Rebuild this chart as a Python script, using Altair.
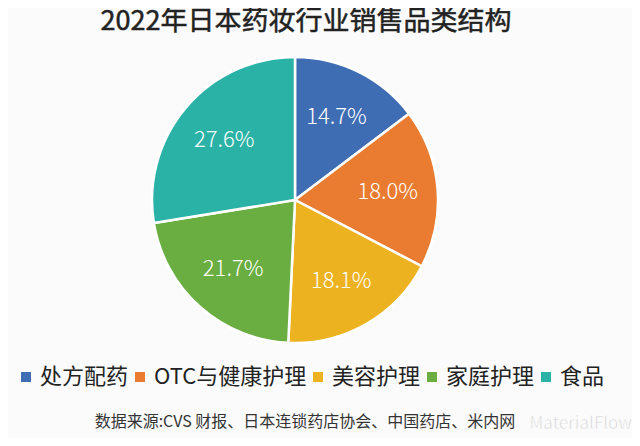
import altair as alt
import pandas as pd

categories = ["处方配药", "OTC与健康护理", "美容护理", "家庭护理", "食品"]
shares = [14.7, 18.0, 18.1, 21.7, 27.6]
labels = ["14.7%", "18.0%", "18.1%", "21.7%", "27.6%"]
colors = ["#3f6db4", "#e97c30", "#edb21f", "#6aae42", "#2bb2a6"]

title_text = "2022年日本药妆行业销售品类结构"
source_text = "数据来源:CVS 财报、日本连锁药店协会、中国药店、米内网"
watermark_text = "MaterialFlow"

FONT = "Noto Sans CJK SC"

df = pd.DataFrame({"cat": categories, "share": shares, "label": labels,
                   "order": list(range(len(categories)))})

CX, CY, R = 287, 192, 143

color_scale = alt.Scale(domain=categories, range=colors)

base = alt.Chart(df).encode(
    theta=alt.Theta("share:Q", stack=True),
    order=alt.Order("order:Q"),
)

pie = base.mark_arc(outerRadius=R, stroke="#ffffff", strokeWidth=2.5).encode(
    color=alt.Color(
        "cat:N",
        scale=color_scale,
        sort=categories,
        legend=alt.Legend(
            title=None,
            orient="none",
            legendX=7,
            legendY=358,
            direction="horizontal",
            symbolType="square",
            symbolSize=100,
            symbolStrokeWidth=0,
            labelFont=FONT,
            labelFontSize=22,
            labelColor="#222222",
            labelOffset=3,
            columnPadding=0,
            labelLimit=300,
        ),
    ),
    x=alt.value(CX),
    y=alt.value(CY),
)

text = base.mark_text(radius=93, font=FONT, fontSize=22, color="white",
                      fontWeight=300).encode(
    text="label:N",
    x=alt.value(CX),
    y=alt.value(CY),
)

title = alt.Chart(pd.DataFrame({"t": [title_text]})).mark_text(
    font=FONT, fontSize=27, fontWeight="normal", color="#222222", align="center",
    baseline="middle", stroke="#222222", strokeWidth=0.5
).encode(text="t:N", x=alt.value(298), y=alt.value(14))

source = alt.Chart(pd.DataFrame({"t": [source_text]})).mark_text(
    font=FONT, fontSize=16, color="#333333", align="center", baseline="middle"
).encode(text="t:N", x=alt.value(297), y=alt.value(414))

watermark = alt.Chart(pd.DataFrame({"t": [watermark_text]})).mark_text(
    font=FONT, fontSize=17, color="#d4d4d4", align="right", baseline="middle",
    stroke="white", strokeWidth=0.5
).encode(text="t:N", x=alt.value(624), y=alt.value(416))

chart = alt.layer(pie, text, title, source, watermark).properties(
    width=624, height=430, padding=0,
    autosize=alt.AutoSizeParams(type="none"),
    background="#fbfbfb",
).configure_view(stroke=None)

chart.save("out.html", embed_options={"renderer": "svg", "actions": False})
